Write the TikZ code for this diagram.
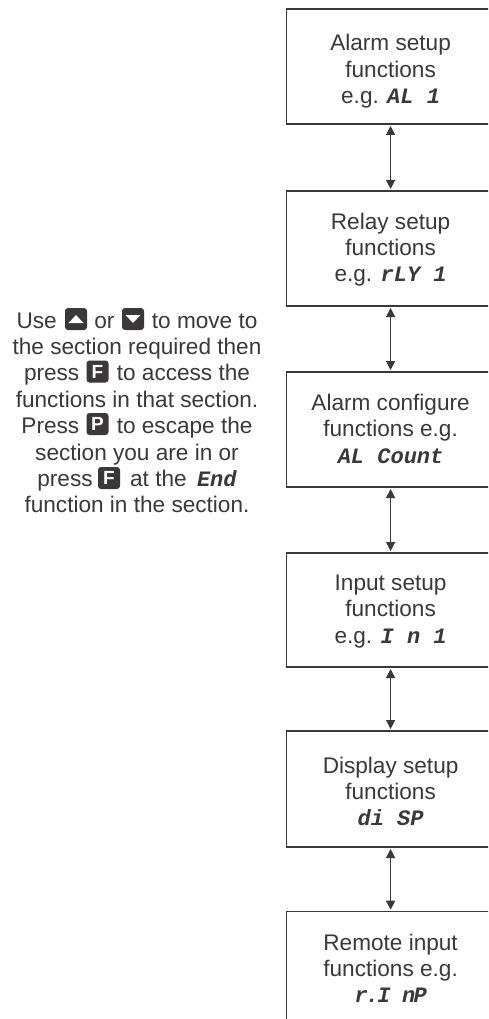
\documentclass[tikz,border=0pt]{standalone}
\usepackage{fontspec}
\setmainfont{Liberation Sans}
\newfontfamily\segfam[BoldItalicFont=* Bold Italic]{Liberation Mono}
\usetikzlibrary{arrows.meta}
\definecolor{ink}{HTML}{3A3839}
\newcommand{\seg}[1]{{\fontsize{22}{26.4}\segfam\bfseries\itshape #1}}
\newcommand{\segtight}[1]{{\fontsize{22}{26.4}\segfam\bfseries\itshape\addfontfeature{LetterSpace=-8}#1}}
\newcommand{\kgap}{\hspace*{25pt}}
\newcommand{\fl}{\rule{0pt}{18pt}}
\tikzset{
  x=1pt,y=-1pt,
  sectionbox/.style={draw=ink,line width=1.2pt,fill=white,inner sep=0pt,outer sep=0pt,minimum width=208.2pt},
  sectiontext/.style={text=ink,font=\fontsize{22.6}{26.4}\selectfont,align=center,inner sep=0pt,outer sep=0pt,anchor=north},
  link/.style={draw=ink,line width=1.2pt,{Triangle[length=9pt,width=9pt]}-{Triangle[length=9pt,width=9pt]},shorten <=2pt,shorten >=2pt},
  keycap/.style={fill=ink,rounded corners=3pt,minimum width=22pt,minimum height=22pt,inner sep=0pt,outer sep=0pt,text=white,font=\fontsize{19}{19}\selectfont\bfseries},
}
\begin{document}
\begin{tikzpicture}
\useasboundingbox (0,0) rectangle (488,1019);
\clip (0,0) rectangle (488,1019);
\fill[white] (0,0) rectangle (488,1019);
\node[sectionbox,minimum height=115pt] (b1) at (390.6,66.5) {};
\node[sectionbox,minimum height=115pt] (b2) at (390.6,248.5) {};
\node[sectionbox,minimum height=115pt] (b3) at (390.6,429.5) {};
\node[sectionbox,minimum height=114pt] (b4) at (390.6,610) {};
\node[sectionbox,minimum height=116pt] (b5) at (390.6,789) {};
\node[sectionbox,minimum height=118.3pt] (b6) at (390.6,970.85) {};
\draw[link] (b1.south) -- (b2.north);
\draw[link] (b2.south) -- (b3.north);
\draw[link] (b3.south) -- (b4.north);
\draw[link] (b4.south) -- (b5.north);
\draw[link] (b5.south) -- (b6.north);
\node[sectiontext] (t1) at (390.6,33) {\fl Alarm setup\\functions\\e.g. \seg{AL 1}};
\node[sectiontext] (t2) at (390.6,211) {\fl Relay setup\\functions\\e.g. \seg{rLY 1}};
\node[sectiontext] (t3) at (390.6,392.5) {\fl Alarm configure\\functions e.g.\\\seg{AL Count}};
\node[sectiontext] (t4) at (390.6,572.5) {\fl Input setup\\functions\\e.g. \seg{I n 1}};
\node[sectiontext] (t5) at (390.6,755) {\fl Display setup\\functions\\\seg{di SP}};
\node[sectiontext] (t6) at (390.6,932) {\fl Remote input\\functions e.g.\\\segtight{r.I nP}};
\node[sectiontext] (help) at (137,310) {\fl Use \kgap{} or \kgap{} to move to\\the section required then\\press \kgap{} to access the\\functions in that section.\\Press \kgap{} to escape the\\section you are in or\\press \kgap{} at the\hspace{4pt} \seg{End}\\function in the section.};
\node[keycap] (kup) at (76,319) {};
\node[keycap] (kdown) at (133,319) {};
\node[keycap] (kf) at (97.5,371.5) {F};
\node[keycap] (kp) at (97.5,424) {P};
\node[keycap] (kf2) at (109,478) {F};
\fill[white] ([shift={(-7.5,4)}]kup.center) -- ([shift={(7.5,4)}]kup.center) -- ([shift={(0,-4)}]kup.center) -- cycle;
\fill[white] ([shift={(-7.5,-4)}]kdown.center) -- ([shift={(7.5,-4)}]kdown.center) -- ([shift={(0,4)}]kdown.center) -- cycle;
\end{tikzpicture}
\end{document}
